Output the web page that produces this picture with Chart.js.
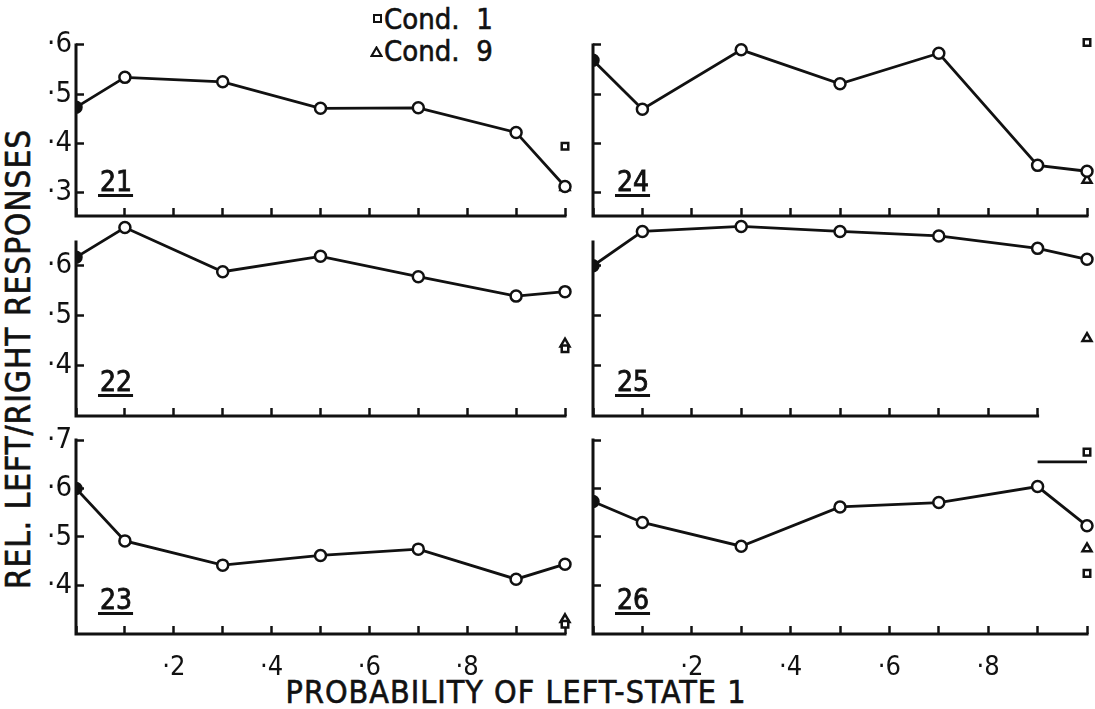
<!DOCTYPE html>
<html>
<head>
<meta charset="utf-8">
<script src="https://cdn.jsdelivr.net/npm/chart.js@4.4.1/dist/chart.umd.min.js"></script>
<style>
	body { margin: 0; background: #fff; width: 1095px; height: 709px; overflow: hidden; position: relative;
		font-family: 'DejaVu Sans Condensed', 'Liberation Sans Narrow', 'DejaVu Sans', sans-serif; color: #111; }
	canvas { position: absolute; }
	.t { position: absolute; white-space: nowrap; line-height: 1; -webkit-text-stroke: 0.6px #111; }
	.sq { position: absolute; width: 5px; height: 5px; border: 2px solid #111; }
</style>
</head>
<body>
<div class="t" id="ytitle" style="left:18px;top:359px;font-size:33px;transform:translate(-50%,-50%) rotate(-90deg);letter-spacing:1px">REL. LEFT/RIGHT RESPONSES</div>
<div class="t" id="xtitle" style="left:516px;top:692px;font-size:32px;transform:translate(-50%,-50%);letter-spacing:1px">PROBABILITY OF LEFT-STATE 1</div>
<div class="sq" style="left:373px;top:14px"></div>
<div class="t" style="left:384px;top:5px;font-size:29px">Cond.&nbsp;&nbsp;1</div>
<svg style="position:absolute;left:370px;top:46px" width="13" height="12"><polygon points="6.5,1.5 11.5,10 1.5,10" fill="#fff" stroke="#111" stroke-width="2.2"/></svg>
<div class="t" style="left:384px;top:37px;font-size:29px">Cond.&nbsp;&nbsp;9</div>

<script>
// probability of left-state 1 (x) and relative left/right responses per subject
const probs = [0, 0.1, 0.3, 0.5, 0.7, 0.9, 1.0];
const panelNames = ['21', '22', '23', '24', '25', '26'];
const s21 = [0.473, 0.534, 0.525, 0.471, 0.472, 0.422, 0.312];
const s22 = [0.617, 0.677, 0.588, 0.619, 0.578, 0.539, 0.548];
const s23 = [0.600, 0.492, 0.442, 0.462, 0.475, 0.413, 0.444];
const s24 = [0.569, 0.469, 0.590, 0.521, 0.583, 0.355, 0.343];
const s25 = [0.600, 0.669, 0.679, 0.669, 0.660, 0.635, 0.613];
const s26 = [0.573, 0.530, 0.481, 0.562, 0.571, 0.604, 0.523];
const series = [s21, s22, s23, s24, s25, s26];
const cond1 = [[0.394], [0.433], [0.320], [0.605], [], [0.675, 0.425]];
const cond9 = [[0.310], [0.443], [0.330], [0.325], [0.454], [0.476]];
const barX = [0.9, 1.0];        // short bar in panel 26
const barY = [0.655, 0.655];
const yMin = [0.252, 0.298, 0.300, 0.252, 0.298, 0.300];
const yAxisTop = [0.600, 0.648, 0.700, 0.600, 0.648, 0.700];
const yMax = [0.610, 0.690, 0.700, 0.610, 0.690, 0.700];
const xAxisEnd = [1, 1, 1, 1, 0.9, 1];
const xTickVals = [0.2, 0.4, 0.6, 0.8];
const xTickLabels = ['·2', '·4', '·6', '·8'];

const FAMILY = "'DejaVu Sans Condensed', 'Liberation Sans Narrow', 'DejaVu Sans', sans-serif";
Chart.defaults.font.family = FAMILY;
Chart.defaults.color = '#111';

const colLeft = [76, 593], colRight = [565, 1087];
const rowTop = [45, 242, 440], rowBottom = [216, 416, 634];   // pixel rows of axis top / bottom
const padL = 70, padT = 35, padR = 70, padB = 60;
const INK = '#111';

const panelLabel = {
	id: 'panelLabel',
	afterDraw(chart, args, opts) {
		const { ctx, chartArea: a } = chart;
		ctx.save();
		ctx.font = '28px ' + FAMILY;
		ctx.fillStyle = INK;
		ctx.strokeStyle = INK;
		ctx.lineWidth = 0.8;
		ctx.textBaseline = 'alphabetic';
		const x = a.left + 24;
		ctx.fillText(opts.text, x, a.bottom - 25);
		ctx.strokeText(opts.text, x, a.bottom - 25);
		const w = ctx.measureText(opts.text).width;
		ctx.fillRect(x - 2, a.bottom - 22, w + 3, 3);
		ctx.restore();
	}
};

const axisLines = {
	id: 'axisLines',
	beforeDatasetsDraw(chart, args, opts) {
		const { ctx } = chart;
		const sx = chart.scales.x, sy = chart.scales.y;
		const x0 = sx.getPixelForValue(0), x1 = sx.getPixelForValue(opts.xEnd);
		const y0 = sy.getPixelForValue(sy.min), y1 = sy.getPixelForValue(opts.yTop);
		ctx.save();
		ctx.strokeStyle = INK;
		ctx.lineWidth = 3;
		ctx.lineCap = 'square';
		ctx.beginPath();
		ctx.moveTo(x0, y1);
		ctx.lineTo(x0, y0);
		ctx.lineTo(x1, y0);
		ctx.stroke();
		ctx.restore();
	}
};

function makePanel(i) {
	const col = i < 3 ? 0 : 1, row = i % 3;
	const L = colLeft[col], B = rowBottom[row];
	const perUnit = (B - rowTop[row]) / (yAxisTop[i] - yMin[i]);
	const T = Math.round(rowTop[row] - (yMax[i] - yAxisTop[i]) * perUnit);
	const W = colRight[col] - L, H = B - T;
	const canvas = document.createElement('canvas');
	canvas.width = W + padL + padR;
	canvas.height = H + padT + padB;
	canvas.style.left = (L - padL) + 'px';
	canvas.style.top = (T - padT) + 'px';
	document.body.appendChild(canvas);

	const datasets = [{
		data: probs.map((x, k) => ({ x: x, y: series[i][k] })),
		showLine: true,
		borderColor: INK,
		borderWidth: 2.8,
		pointRadius: 5.5,
		pointBorderWidth: 2.5,
		pointBorderColor: INK,
		pointBackgroundColor: probs.map(x => x === 0 ? INK : '#fff'),
		clip: { left: 0, top: 40, right: 60, bottom: 10 }
	}, {
		data: cond1[i].map(y => ({ x: 1, y: y })),
		pointStyle: 'rect',
		pointRadius: 4.6,
		pointBorderWidth: 2.5,
		pointBorderColor: INK,
		pointBackgroundColor: '#fff',
		clip: false
	}, {
		data: cond9[i].map(y => ({ x: 1, y: y })),
		pointStyle: 'triangle',
		pointRadius: 5.2,
		pointBorderWidth: 2.5,
		pointBorderColor: INK,
		pointBackgroundColor: i === 0 ? INK : '#fff',
		clip: false
	}];
	if (i === 5) {
		datasets.push({
			data: barX.map((x, k) => ({ x: x, y: barY[k] })),
			showLine: true,
			borderColor: INK,
			borderWidth: 2.8,
			pointRadius: 0,
			clip: false
		});
	}

	new Chart(canvas, {
		type: 'scatter',
		data: { datasets: datasets },
		options: {
			responsive: false,
			animation: false,
			layout: { padding: { left: 0, top: padT, right: padR, bottom: 0 } },
			plugins: {
				legend: { display: false },
				tooltip: { enabled: false },
				panelLabel: { text: panelNames[i] },
				axisLines: { xEnd: xAxisEnd[i], yTop: yAxisTop[i] }
			},
			scales: {
				x: {
					type: 'linear',
					min: 0,
					max: 1,
					afterFit: s => { s.height = padB; },
					afterBuildTicks: s => { s.ticks = s.ticks.filter(t => t.value <= xAxisEnd[i] + 1e-6); },
					border: { display: false },
					grid: { drawOnChartArea: false, tickLength: -8, tickWidth: 2.5, tickColor: INK },
					ticks: {
						stepSize: 0.1, autoSkip: false, maxRotation: 0, padding: 26,
						font: { size: 27 }, color: INK,
						callback: v => {
							if (row !== 2) return '';
							const k = xTickVals.findIndex(t => Math.abs(t - v) < 1e-6);
							return k < 0 ? '' : xTickLabels[k];
						}
					}
				},
				y: {
					min: yMin[i],
					max: yMax[i],
					afterFit: s => { s.width = padL; },
					afterBuildTicks: s => { s.ticks = s.ticks.filter(t => t.value > s.min + 0.005 && t.value <= yAxisTop[i] + 1e-6); },
					border: { display: false },
					grid: { drawOnChartArea: false, tickLength: -8, tickWidth: 2.5, tickColor: INK },
					ticks: {
						stepSize: 0.1, includeBounds: false, padding: 12,
						font: { size: 29 }, color: INK,
						callback: v => col === 0 ? '·' + Math.round(v * 10) : ''
					}
				}
			}
		},
		plugins: [axisLines, panelLabel]
	});
}

for (let i = 0; i < 6; i++) makePanel(i);
</script>
</body>
</html>
